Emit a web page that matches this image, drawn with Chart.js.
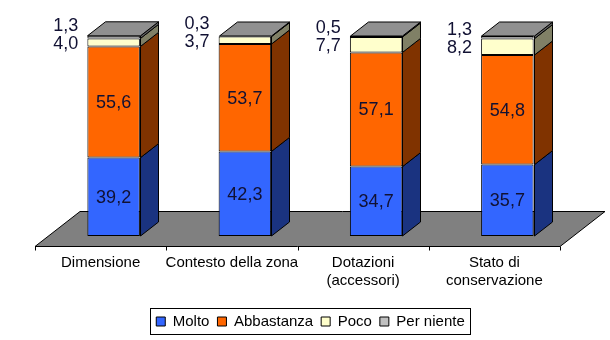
<!DOCTYPE html>
<html><head><meta charset="utf-8">
<script src="https://cdn.jsdelivr.net/npm/chart.js@4.4.0/dist/chart.umd.min.js"></script>
<style>html,body{margin:0;padding:0;background:#fff;}#wrap{width:610px;height:340px;}</style>
</head><body><div id="wrap"><canvas id="c" width="610" height="340"></canvas></div>
<script>
const categories = ['Dimensione', 'Contesto della zona', ['Dotazioni', '(accessori)'], ['Stato di', 'conservazione']];
const seriesNames = ['Molto', 'Abbastanza', 'Poco', 'Per niente'];
const molto = [39.2, 42.3, 34.7, 35.7];
const abbastanza = [55.6, 53.7, 57.1, 54.8];
const poco = [4.0, 3.7, 7.7, 8.2];
const perNiente = [1.3, 0.3, 0.5, 1.3];

const frontColors = ['#3366FF', '#FF6600', '#FFFFCC', '#C0C0C0'];
const sideColors = ['#1A3380', '#803300', '#808066', '#606060'];
const topColor = '#909090';
const FONT = 'Arial, "Liberation Sans", sans-serif';
const DX = 18, DY = 14;

function fmt(v) { return v.toFixed(1).replace('.', ','); }

const threeD = {
  id: 'threeD',
  beforeDatasetsDraw(chart) {
    const { ctx, chartArea: a, scales: { x } } = chart;
    const step = x.getPixelForValue(1) - x.getPixelForValue(0);
    const fy = Math.round(a.bottom + 10) + 0.5, by = Math.round(a.bottom - 25) + 0.5;
    const fl = a.left - 13, fr = a.right - 13;
    ctx.save();
    ctx.beginPath();
    ctx.moveTo(fl, fy); ctx.lineTo(fr, fy); ctx.lineTo(a.right + 32, by); ctx.lineTo(a.left + 32, by);
    ctx.closePath();
    ctx.fillStyle = '#808080'; ctx.fill();
    ctx.strokeStyle = '#000'; ctx.lineWidth = 1; ctx.stroke();
    ctx.beginPath();
    for (let i = 0; i <= categories.length; i++) {
      const tx = Math.round(fl + i * step) + 0.5;
      ctx.moveTo(tx, fy); ctx.lineTo(tx, fy + 4);
    }
    ctx.stroke();
    ctx.restore();
  },
  afterDatasetsDraw(chart) {
    const { ctx } = chart;
    ctx.save();
    ctx.lineWidth = 1; ctx.strokeStyle = '#000';
    const n = chart.data.datasets.length;
    for (let d = 0; d < n; d++) {
      const meta = chart.getDatasetMeta(d);
      meta.data.forEach((el) => {
        const r = Math.round(el.x + el.width / 2) + 0.5;
        const t = Math.min(el.y, el.base), b = Math.max(el.y, el.base);
        ctx.beginPath();
        ctx.moveTo(r, b); ctx.lineTo(r + DX, b - DY); ctx.lineTo(r + DX, t - DY); ctx.lineTo(r, t);
        ctx.closePath();
        ctx.fillStyle = sideColors[d]; ctx.fill(); ctx.stroke();
        if (d === n - 1) {
          const l = Math.round(el.x - el.width / 2) + 0.5;
          ctx.beginPath();
          ctx.moveTo(l, t); ctx.lineTo(l + DX, t - DY); ctx.lineTo(r + DX, t - DY); ctx.lineTo(r, t);
          ctx.closePath();
          ctx.fillStyle = topColor; ctx.fill(); ctx.stroke();
        }
      });
    }
    // value labels
    ctx.fillStyle = '#111133';
    ctx.font = '18px ' + FONT;
    ctx.textBaseline = 'middle';
    for (let i = 0; i < categories.length; i++) {
      let pocoY = 0;
      for (let d = 0; d < n; d++) {
        const el = chart.getDatasetMeta(d).data[i];
        const v = chart.data.datasets[d].data[i];
        const cy = (el.y + el.base) / 2;
        const left = el.x - el.width / 2;
        if (d < 2) {
          ctx.textAlign = 'center';
          ctx.fillText(fmt(v), el.x, cy + 1);
        } else if (d === 2) {
          ctx.textAlign = 'right';
          pocoY = cy + 1.5;
          ctx.fillText(fmt(v), left - 9, pocoY);
        } else {
          ctx.textAlign = 'right';
          ctx.fillText(fmt(v), left - 9, pocoY - 18);
        }
      }
    }
    ctx.restore();
  },
  afterDraw(chart) {
    const boxes = chart.legend && chart.legend.legendHitBoxes;
    if (!boxes || !boxes.length) return;
    const { ctx } = chart;
    let l = Infinity, r = -Infinity, t = Infinity, b = -Infinity;
    boxes.forEach(h => { l = Math.min(l, h.left); r = Math.max(r, h.left + h.width); t = Math.min(t, h.top); b = Math.max(b, h.top + h.height); });
    ctx.save();
    ctx.strokeStyle = '#000'; ctx.lineWidth = 1;
    ctx.strokeRect(Math.round(l - 6) + 0.5, Math.round(t - 6) + 0.5, Math.round(r - l + 12), Math.round(b - t + 11));
    ctx.restore();
  }
};

const seriesValues = [molto, abbastanza, poco, perNiente];

new Chart(document.getElementById('c'), {
  type: 'bar',
  data: {
    labels: categories,
    datasets: seriesNames.map((name, d) => ({
      label: name,
      data: seriesValues[d],
      backgroundColor: frontColors[d],
      borderColor: '#000',
      borderWidth: 1,
      borderSkipped: false,
      categoryPercentage: 1,
      barPercentage: 0.4,
      clip: false
    }))
  },
  options: {
    responsive: false,
    animation: false,
    devicePixelRatio: 1,
    layout: { padding: { left: 48, right: 37, top: 36, bottom: 1 } },
    scales: {
      x: {
        stacked: true,
        grid: { display: false, drawTicks: false },
        border: { display: false },
        ticks: {
          autoSkip: false, maxRotation: 0, minRotation: 0,
          labelOffset: -13, padding: 17,
          color: '#000',
          font: { family: FONT, size: 15, lineHeight: 1.25 }
        },
        afterFit(scale) { scale.height = 70; }
      },
      y: {
        stacked: true, display: false, min: 0, max: 100
      }
    },
    plugins: {
      legend: {
        position: 'bottom',
        labels: {
          boxWidth: 9, boxHeight: 9, padding: 8, color: '#000',
          font: { family: FONT, size: 15 }
        }
      },
      tooltip: { enabled: false }
    }
  },
  plugins: [threeD]
});
</script>
</body></html>
